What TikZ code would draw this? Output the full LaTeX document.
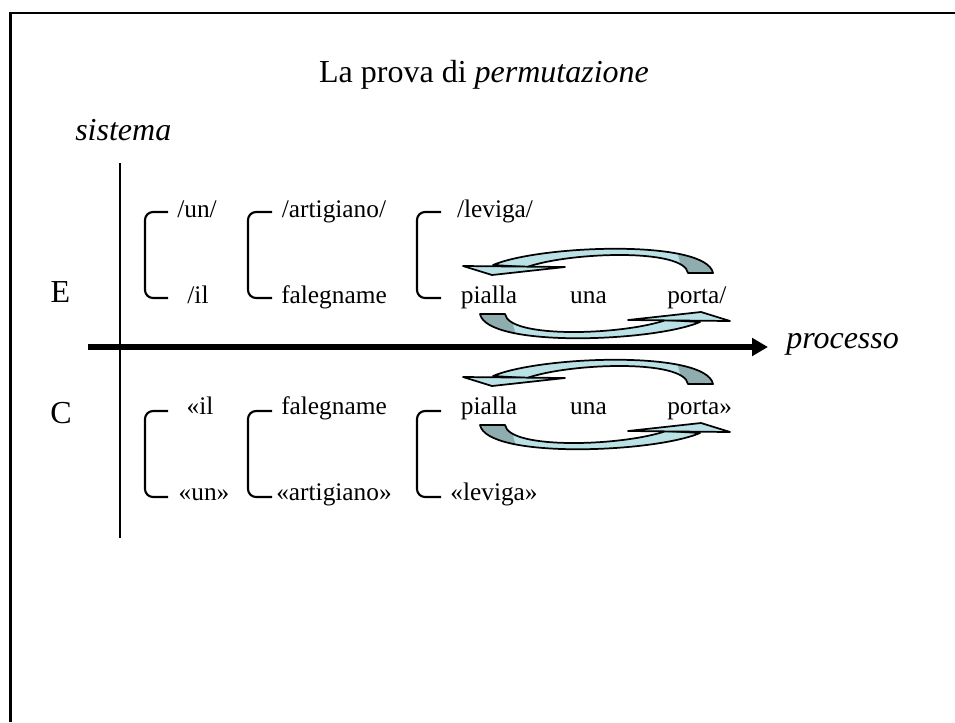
\documentclass[tikz,border=0pt]{standalone}
\usepackage{fontspec}
\setmainfont{Liberation Serif}
\usetikzlibrary{arrows.meta}
\definecolor{arrowlight}{RGB}{186,226,230}
\definecolor{arrowdark}{RGB}{143,173,175}
\newcommand\bandshape{(-103.5,-28.5) .. controls (-56.5,-48.5) and (109.5,-54.5) .. (116.5,-20.5)
  -- (91.5,-20.5) .. controls (87.5,-45.5) and (-26.5,-41.5) .. (-69.5,-26.5) -- cycle}

\begin{document}
\begin{tikzpicture}[x=0.75pt, y=-0.75pt,
              word/.style = {font=\fontsize{19}{22}\selectfont, inner sep=0pt, anchor=base},
              big/.style = {font=\fontsize{24}{28}\selectfont, inner sep=0pt, anchor=base},
              brk/.style = {line width=1.6pt, rounded corners=6pt},
              pics/swaparrows/.style = {code={
                \foreach \ang in {0,180} {
                  \begin{scope}[rotate=\ang]
                    \fill[arrowlight] \bandshape;
                    \begin{scope}
                      \clip (76,-58) -- (130,-58) -- (130,-15) -- (88,-15) -- cycle;
                      \fill[arrowdark] \bandshape;
                    \end{scope}
                    \draw[line width=1.3pt, line join=round] \bandshape;
                    \filldraw[fill=arrowlight, line width=1.3pt, line join=round]
                      (-133.5,-27.5) -- (-31.5,-26.5) -- (-104.5,-18.5) -- cycle;
                  \end{scope}
                }
              }}]
  \useasboundingbox (0,0) rectangle (955,722);
  \coordinate (frtr) at (955,12.8);
  \coordinate (frtl) at (10.3,12.8);
  \coordinate (frbl) at (10.3,722);
  \draw[line width=1.9pt] (frtr) -- (frtl) -- (frbl);

  \node[big] (title) at (484,82) {La prova di \textit{permutazione}};
  \node[big, anchor=base west] (sistema) at (75,140) {\textit{sistema}};
  \node[big, anchor=base west] (processo) at (786,348) {\textit{processo}};
  \node[big] (E) at (60.5,302) {E};
  \node[big] (C) at (61,423) {C};

  \coordinate (ytop) at (120,163);
  \coordinate (ybot) at (120,538);
  \coordinate (xleft) at (88,347);
  \coordinate (xright) at (768,347);
  \draw[line width=2.2pt] (ytop) -- (ybot);
  \draw[line width=4.2pt, -{Triangle[length=12pt,width=13pt]}] (xleft) -- (xright);

  \foreach \xv/\xe in {145/168, 248/272, 417/441} {
    \draw[brk] (\xe,212) -- (\xv,212) -- (\xv,298) -- (\xe,298);
    \draw[brk] (\xe,411) -- (\xv,411) -- (\xv,497) -- (\xe,497);
  }

  \node[word] (eun) at (197,217) {/un/};
  \node[word] (eartigiano) at (334,217) {/artigiano/};
  \node[word] (eleviga) at (495,217) {/leviga/};
  \node[word] (eil) at (198,303) {/il};
  \node[word] (efalegname) at (334,303) {falegname};
  \node[word] (epialla) at (489,303) {pialla};
  \node[word] (euna) at (588.5,303) {una};
  \node[word, anchor=base west] (eporta) at (667,303) {porta/};

  \node[word] (cil) at (200,414) {«il};
  \node[word] (cfalegname) at (334,414) {falegname};
  \node[word] (cpialla) at (489,414) {pialla};
  \node[word] (cuna) at (588.5,414) {una};
  \node[word, anchor=base west] (cporta) at (667,414) {porta»};
  \node[word] (cun) at (204,500) {«un»};
  \node[word] (cartigiano) at (334,500) {«artigiano»};
  \node[word] (cleviga) at (494,500) {«leviga»};

  \pic at (596.5,293.5) {swaparrows};
  \pic at (596.5,404.5) {swaparrows};
\end{tikzpicture}
\end{document}
